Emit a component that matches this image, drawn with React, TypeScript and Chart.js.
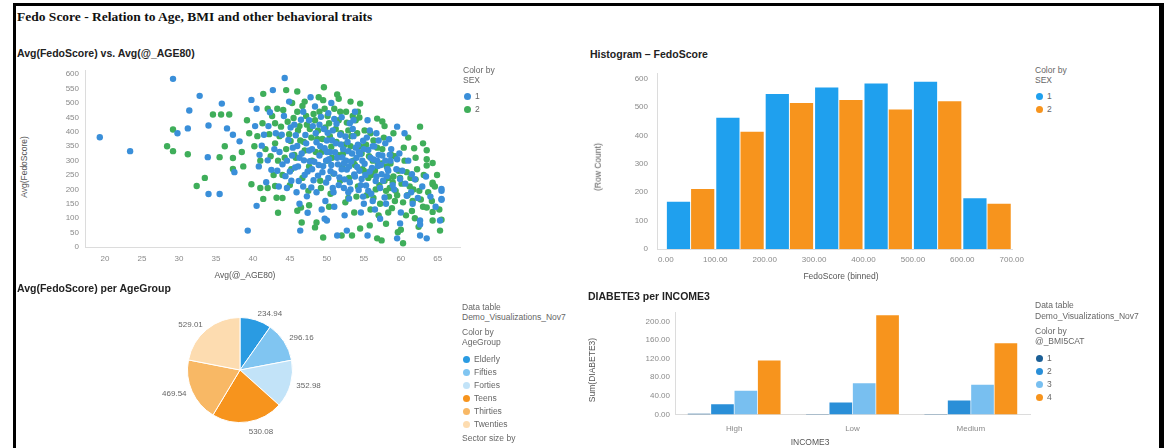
import React, { useEffect, useRef } from 'react';
import { Chart, registerables } from 'chart.js';

Chart.register(...registerables);
Chart.defaults.font.family = "'Liberation Sans', Arial, sans-serif";

// ---------- Scatter: Avg(FedoScore) vs Avg(@_AGE80) ----------
const scatterXTicks = [20, 25, 30, 35, 40, 45, 50, 55, 60, 65];
const scatterYTicks = [0, 50, 100, 150, 200, 250, 300, 350, 400, 450, 500, 550, 600];
const sex1Points: number[][] = [
  [19.3, 381], [23.4, 333], [29.2, 584], [32.8, 525], [35.8, 498], [31.4, 474], [31.2, 412], [29.8, 395],
  [33.9, 312], [34, 184], [35.5, 184], [34, 422], [36.5, 412], [37.3, 390], [38.2, 367], [37.5, 260],
  [40.5, 143], [39.3, 57], [39.8, 511], [40.5, 480], [42.7, 545], [44.3, 587], [46.4, 57], [50, 92],
  [51.4, 40], [55.5, 40], [59.5, 30], [62.6, 40], [63.5, 30], [65.3, 92], [62.6, 78], [65.5, 164],
  [65.5, 195], [59.5, 418], [60.5, 395], [58.4, 374], [56.2, 350], [59.5, 305], [58.2, 271], [57.4, 253],
  [61.5, 253], [59.9, 236], [65.5, 202], [65.5, 167], [60.8, 178], [61.6, 150], [62.6, 92], [59.9, 82],
  [57.2, 98], [52.7, 57], [49.7, 98], [47.4, 119],
  [41.2, 352], [42.0, 301], [42.5, 268], [43.1, 395], [43.6, 330], [44.0, 287], [44.4, 246], [44.8, 372],
  [45.1, 415], [45.3, 318], [45.7, 276], [46.0, 351], [46.2, 229], [46.5, 442], [46.9, 301], [47.1, 389],
  [47.4, 262], [47.6, 335], [47.9, 207], [48.1, 420], [48.3, 296], [48.6, 364], [48.8, 248], [49.0, 318],
  [49.2, 452], [49.5, 281], [49.7, 343], [49.9, 224], [50.1, 397], [50.3, 305], [50.5, 263], [50.7, 371],
  [50.9, 190], [51.1, 329], [51.3, 428], [51.5, 287], [51.7, 242], [51.9, 356], [52.1, 311], [52.3, 205],
  [52.5, 384], [52.7, 269], [52.9, 333], [53.1, 225], [53.3, 297], [53.5, 410], [53.7, 252], [53.9, 345],
  [54.1, 278], [54.3, 198], [54.5, 322], [54.7, 236], [54.9, 369], [55.1, 289], [55.3, 214], [55.6, 337],
  [55.8, 262], [56.0, 185], [56.3, 304], [56.6, 229], [56.9, 281], [57.2, 205], [57.5, 318], [57.8, 172],
  [58.1, 246], [46.8, 470], [48.4, 488], [50.2, 465], [44.2, 455], [52.0, 451], [47.3, 176], [49.8, 160],
  [53.0, 168], [55.0, 150], [43.5, 210], [45.9, 190], [51.0, 140], [41.8, 225], [40.8, 280], [40.3, 420],
  [42.3, 468], [44.9, 505], [47.8, 520], [50.6, 500], [53.8, 470], [55.5, 440], [56.7, 395], [57.9, 360],
  [58.6, 300], [58.9, 215], [56.2, 160], [54.6, 120], [52.4, 110], [49.3, 130], [46.3, 150],
  [44.6, 300], [45.0, 262], [45.4, 345], [45.8, 388], [46.1, 280], [46.6, 325], [47.0, 250], [47.2, 360],
  [47.7, 298], [48.0, 340], [48.2, 232], [48.5, 395], [48.9, 285], [49.1, 350], [49.4, 260], [49.6, 410],
  [49.9, 300], [50.0, 370], [50.2, 240], [50.4, 330], [50.6, 285], [50.8, 405], [51.0, 255], [51.2, 360],
  [51.4, 310], [51.6, 215], [51.8, 390], [52.0, 270], [52.2, 340], [52.4, 235], [52.6, 300], [52.8, 365],
  [53.0, 280], [53.2, 200], [53.4, 325], [53.6, 385], [53.8, 245], [54.0, 310], [54.2, 355], [54.4, 265],
  [54.6, 215], [54.8, 300], [55.0, 340], [55.2, 250], [55.4, 380], [55.6, 195], [55.9, 310], [56.1, 275],
  [56.4, 350], [56.7, 245], [57.0, 320], [57.3, 285], [57.6, 230], [57.9, 300], [58.3, 265], [58.7, 340],
  [59.1, 200], [59.4, 270], [59.8, 325], [60.2, 265], [60.6, 220], [61.0, 300], [61.4, 190], [61.9, 235],
  [62.3, 170], [62.9, 210], [63.4, 245], [64.0, 175], [64.7, 140], [45.2, 230], [46.8, 210], [48.6, 190],
  [50.8, 205], [52.9, 190], [54.9, 175], [56.5, 130], [58.0, 150], [60.0, 120], [49.0, 425], [51.0, 445],
  [53.1, 430], [47.6, 440], [45.6, 425], [43.9, 390], [42.9, 340], [42.1, 420], [43.3, 265], [44.6, 205],
  [41.5, 390], [40.9, 320], [46.3, 310], [48.0, 270], [50.0, 330], [52.3, 290], [54.3, 330], [56.8, 300],
  [58.5, 320], [57.0, 370], [55.8, 405], [53.6, 440],
];
const sex2Points: number[][] = [
  [29.2, 408], [28.4, 350], [29.2, 333], [31.2, 322], [32.4, 212], [33.5, 240], [35.5, 312], [34.6, 460],
  [35.7, 460], [36.8, 460], [37.3, 309], [37.3, 271], [39.8, 218], [41, 205], [42, 205], [43, 212],
  [41.4, 167], [43.2, 171], [43.4, 119], [41.4, 532], [44.5, 545], [46, 126], [46.6, 85], [48.4, 68],
  [49.5, 33], [53.4, 40], [54.5, 64], [56.8, 30], [57.4, 23], [60.3, 13], [65.3, 57], [64.3, 92],
  [58, 81], [64.3, 218], [54.5, 498], [54.2, 470], [56.8, 446], [57.5, 436], [62.6, 418], [61.8, 343],
  [63.5, 336], [63.5, 305], [64.3, 292], [63.5, 283], [64.3, 223], [64.6, 210], [58.5, 205], [59.2, 160],
  [63.5, 137], [64.3, 122], [65.5, 95], [59.6, 51], [55.8, 75], [52, 40], [48.6, 85], [46.5, 137],
  [38.5, 330], [36.2, 350], [39.2, 440],
  [40.6, 385], [41.3, 430], [41.7, 340], [42.2, 392], [42.6, 455], [43.0, 360], [43.4, 300], [43.8, 418],
  [44.1, 476], [44.5, 340], [44.9, 392], [45.2, 270], [45.5, 448], [45.8, 310], [46.1, 405], [46.4, 370],
  [46.7, 490], [47.0, 335], [47.3, 425], [47.6, 280], [47.9, 380], [48.2, 462], [48.5, 330], [48.8, 405],
  [49.1, 230], [49.4, 375], [49.7, 480], [50.0, 300], [50.3, 430], [50.6, 348], [50.9, 255], [51.2, 410],
  [51.5, 320], [51.8, 470], [52.1, 275], [52.4, 355], [52.7, 432], [53.0, 240], [53.3, 385], [53.6, 300],
  [53.9, 440], [54.2, 210], [54.5, 350], [54.8, 270], [55.1, 405], [55.4, 180], [55.7, 315], [56.0, 250],
  [56.3, 370], [56.6, 200], [56.9, 290], [57.2, 150], [57.5, 340], [57.8, 230], [58.1, 280], [58.4, 175],
  [58.7, 320], [59.0, 245], [59.3, 195], [59.7, 265], [60.1, 220], [60.5, 300], [60.9, 180], [61.3, 240],
  [61.7, 200], [62.2, 270], [62.7, 165], [63.1, 250], [45.0, 215], [47.5, 195], [50.5, 185], [52.9, 170],
  [55.9, 130], [58.3, 120], [60.7, 110], [61.5, 125], [42.8, 250], [44.0, 170], [48.9, 520], [51.6, 515],
  [46.0, 540], [53.2, 505], [49.6, 555], [52.5, 155],
  [42.4, 315], [43.0, 430], [43.6, 385], [44.3, 310], [44.7, 435], [45.1, 368], [45.6, 320], [46.0, 470],
  [46.3, 420], [46.9, 365], [47.2, 455], [47.7, 410], [48.0, 300], [48.4, 440], [48.7, 375], [49.0, 470],
  [49.3, 330], [49.8, 415], [50.1, 455], [50.4, 385], [50.7, 310], [51.0, 480], [51.3, 365], [51.6, 440],
  [51.9, 395], [52.2, 325], [52.6, 470], [52.9, 405], [53.2, 350], [53.5, 455], [53.8, 285], [54.1, 395],
  [54.4, 450], [54.7, 325], [55.0, 265], [55.3, 355], [55.6, 240], [55.9, 395], [56.2, 300], [56.5, 265],
  [56.8, 345], [57.1, 215], [57.4, 290], [57.7, 380], [58.0, 195], [58.3, 240], [58.6, 290], [58.9, 225],
  [59.2, 315], [59.5, 180], [59.9, 240], [60.3, 155], [60.8, 260], [61.2, 210], [61.6, 160], [62.0, 235],
  [62.5, 195], [63.0, 140], [63.7, 190], [64.2, 160], [64.9, 250], [65.2, 130], [60.4, 345], [61.0, 380],
  [62.0, 310], [63.0, 360], [59.0, 395], [57.8, 420], [49.5, 510], [47.0, 505], [51.4, 530], [45.3, 500],
  [43.3, 480], [42.0, 480], [40.2, 350], [41.0, 300], [39.5, 395], [38.7, 280], [44.0, 250], [46.7, 240],
  [49.2, 205], [51.8, 230], [54.0, 175], [56.3, 170], [58.8, 135], [61.9, 100], [62.4, 70], [60.0, 60],
  [57.0, 110], [53.7, 120], [50.3, 140], [47.6, 145],
];

// ---------- Histogram: FedoScore ----------
const histBinCenters = [50, 150, 250, 350, 450, 550, 650];
const histSex1 = [166, 462, 546, 569, 583, 589, 179];
const histSex2 = [211, 413, 514, 525, 491, 520, 159];
const histXTicks = [0, 100, 200, 300, 400, 500, 600, 700];
const histXTickLabels = ['0.00', '100.00', '200.00', '300.00', '400.00', '500.00', '600.00', '700.00'];
const histYTicks = [0, 100, 200, 300, 400, 500, 600];

// ---------- Pie: Avg(FedoScore) per AgeGroup ----------
const ageGroups = ['Elderly', 'Fifties', 'Forties', 'Teens', 'Thirties', 'Twenties'];
const ageAvgScore = [234.94, 296.16, 352.98, 530.08, 469.54, 529.01];

// ---------- Bars: DIABETE3 per INCOME3 ----------
const incomeCats = ['High', 'Low', 'Medium'];
const bmiCats = ['1', '2', '3', '4'];
const diabetesBmi1 = [1.5, 1, 1];
const diabetesBmi2 = [22, 26, 30];
const diabetesBmi3 = [51, 67, 64];
const diabetesBmi4 = [116, 213, 153];
const diabYTicks = [0, 40, 80, 120, 160, 200];

// ---------- colours ----------
const SC_BLUE = '#3a8fd9';
const SC_GREEN = '#3fae5a';
const H_BLUE = '#1fa0ee';
const H_ORANGE = '#f7941d';
const AGE_COLORS = ['#2a9be2', '#80c5f1', '#c2e3f8', '#f7941d', '#f8b865', '#fddcb0'];
const BMI_COLORS = ['#1b5f96', '#2a8fd8', '#78bff0', '#f7941d'];

const TICK_FONT = { size: 8 };
const TICK_COLOR = '#8a8a8a';
const AXIS_BORDER = { color: '#dcdcdc', width: 1 };

function fixedTicks(values: number[]) {
  return (scale: any) => {
    scale.ticks = values.map((v) => ({ value: v }));
  };
}

function ChartBox({ left, top, width, height, make }: any) {
  const ref = useRef<HTMLCanvasElement>(null);
  useEffect(() => {
    const chart = new Chart(ref.current as HTMLCanvasElement, make());
    return () => chart.destroy();
  }, []);
  return (
    <canvas
      ref={ref}
      width={width}
      height={height}
      style={{ position: 'absolute', left, top, width, height }}
    />
  );
}

function T({ x, y, children, size = 8.5, color = '#666', bold = false, align = 'left', rotate = false, family }: any) {
  let transform = 'translateY(-50%)';
  if (align === 'center') transform = 'translate(-50%,-50%)';
  if (rotate) transform = 'translate(-50%,-50%) rotate(-90deg)';
  return (
    <div
      style={{
        position: 'absolute',
        left: x,
        top: y,
        transform,
        whiteSpace: 'nowrap',
        fontSize: size,
        lineHeight: 1,
        color,
        fontWeight: bold ? 'bold' : 'normal',
        fontFamily: family || "'Liberation Sans', Arial, sans-serif",
      }}
    >
      {children}
    </div>
  );
}

function Dot({ x, y, color }: any) {
  return (
    <div
      style={{
        position: 'absolute',
        left: x - 3.5,
        top: y - 3.5,
        width: 7,
        height: 7,
        borderRadius: '50%',
        background: color,
      }}
    />
  );
}

function LegendItems({ x, y0, step, labels, colors }: any) {
  return (
    <>
      {labels.map((l: string, i: number) => (
        <React.Fragment key={l}>
          <Dot x={x + 4} y={y0 + i * step} color={colors[i]} />
          <T x={x + 12} y={y0 + i * step}>{l}</T>
        </React.Fragment>
      ))}
    </>
  );
}

const pieLabelPlugin = {
  id: 'pieLabels',
  afterDatasetsDraw(chart: any) {
    const ctx = chart.ctx;
    const meta = chart.getDatasetMeta(0);
    const values = chart.data.datasets[0].data;
    ctx.save();
    ctx.font = "8px 'Liberation Sans', Arial, sans-serif";
    ctx.fillStyle = '#666';
    meta.data.forEach((arc: any, i: number) => {
      const p = arc.getProps(['x', 'y', 'startAngle', 'endAngle', 'outerRadius'], true);
      const mid = (p.startAngle + p.endAngle) / 2;
      const c = Math.cos(mid);
      const s = Math.sin(mid);
      const r = p.outerRadius + 6;
      const tx = p.x + c * r;
      const ty = p.y + s * r;
      ctx.textAlign = c > 0.1 ? 'left' : c < -0.1 ? 'right' : 'center';
      ctx.textBaseline = s > 0.97 ? 'top' : s < -0.97 ? 'bottom' : 'middle';
      ctx.fillText(Number(values[i]).toFixed(2), tx, ty);
    });
    ctx.restore();
  },
};

const makeScatter = () => ({
  type: 'scatter',
  data: {
    datasets: [
      {
        label: '1',
        data: sex1Points.map(([x, y]) => ({ x, y })),
        backgroundColor: SC_BLUE,
        borderColor: SC_BLUE,
        borderWidth: 0,
        pointRadius: 3.2,
      },
      {
        label: '2',
        data: sex2Points.map(([x, y]) => ({ x, y })),
        backgroundColor: SC_GREEN,
        borderColor: SC_GREEN,
        borderWidth: 0,
        pointRadius: 3.2,
      },
    ],
  },
  options: {
    responsive: false,
    animation: false,
    layout: { padding: { top: 8, right: 10, left: 0, bottom: 0 } },
    plugins: { legend: { display: false }, tooltip: { enabled: false } },
    scales: {
      x: {
        type: 'linear',
        min: 17.3,
        max: 68,
        afterBuildTicks: fixedTicks(scatterXTicks),
        afterFit: (s: any) => { s.height = 25; },
        grid: { display: false, drawTicks: false },
        border: AXIS_BORDER,
        ticks: { padding: 7, font: TICK_FONT, color: TICK_COLOR, autoSkip: false, maxRotation: 0 },
      },
      y: {
        min: 0,
        max: 612,
        afterBuildTicks: fixedTicks(scatterYTicks),
        afterFit: (s: any) => { s.width = 45; },
        grid: { display: false, drawTicks: false },
        border: AXIS_BORDER,
        ticks: { padding: 6, font: TICK_FONT, color: TICK_COLOR, autoSkip: false },
      },
    },
  },
});

const makeHist = () => ({
  type: 'bar',
  data: {
    datasets: [
      {
        label: '1',
        data: histBinCenters.map((x, i) => ({ x, y: histSex1[i] })),
        backgroundColor: H_BLUE,
        categoryPercentage: 0.98,
        barPercentage: 0.96,
      },
      {
        label: '2',
        data: histBinCenters.map((x, i) => ({ x, y: histSex2[i] })),
        backgroundColor: H_ORANGE,
        categoryPercentage: 0.98,
        barPercentage: 0.96,
      },
    ],
  },
  options: {
    responsive: false,
    animation: false,
    layout: { padding: { top: 10, right: 13, left: 0, bottom: 0 } },
    plugins: { legend: { display: false }, tooltip: { enabled: false } },
    scales: {
      x: {
        type: 'linear',
        min: -18,
        max: 702,
        offset: false,
        afterBuildTicks: fixedTicks(histXTicks),
        afterFit: (s: any) => { s.height = 23; },
        grid: { display: false, drawTicks: false },
        border: AXIS_BORDER,
        ticks: {
          padding: 6,
          font: TICK_FONT,
          color: TICK_COLOR,
          autoSkip: false,
          maxRotation: 0,
          callback: (v: number) => histXTickLabels[histXTicks.indexOf(v)],
        },
      },
      y: {
        min: 0,
        max: 617,
        afterBuildTicks: fixedTicks(histYTicks),
        afterFit: (s: any) => { s.width = 57; },
        grid: { display: false, drawTicks: false },
        border: AXIS_BORDER,
        ticks: { padding: 9, font: TICK_FONT, color: TICK_COLOR, autoSkip: false },
      },
    },
  },
});

const makePie = () => ({
  type: 'pie',
  data: {
    labels: ageGroups,
    datasets: [
      {
        data: ageAvgScore,
        backgroundColor: AGE_COLORS,
        borderColor: '#ffffff',
        borderWidth: 1,
      },
    ],
  },
  options: {
    responsive: false,
    animation: false,
    layout: { padding: 22 },
    plugins: { legend: { display: false }, tooltip: { enabled: false } },
  },
  plugins: [pieLabelPlugin],
});

const makeBars = () => ({
  type: 'bar',
  data: {
    labels: incomeCats,
    datasets: [diabetesBmi1, diabetesBmi2, diabetesBmi3, diabetesBmi4].map((d, i) => ({
      label: bmiCats[i],
      data: d,
      backgroundColor: BMI_COLORS[i],
      categoryPercentage: 0.79,
      barPercentage: 0.97,
    })),
  },
  options: {
    responsive: false,
    animation: false,
    layout: { padding: { top: 12, right: 10, left: 0, bottom: 0 } },
    plugins: { legend: { display: false }, tooltip: { enabled: false } },
    scales: {
      x: {
        afterFit: (s: any) => { s.height = 33.5; },
        grid: { display: false, drawTicks: false },
        border: AXIS_BORDER,
        ticks: { padding: 9, font: TICK_FONT, color: TICK_COLOR, maxRotation: 0 },
      },
      y: {
        min: 0,
        max: 220,
        afterBuildTicks: fixedTicks(diabYTicks),
        afterFit: (s: any) => { s.width = 75; },
        grid: { display: false, drawTicks: false },
        border: AXIS_BORDER,
        ticks: {
          padding: 5,
          font: TICK_FONT,
          color: TICK_COLOR,
          autoSkip: false,
          callback: (v: number) => v.toFixed(2),
        },
      },
    },
  },
});

export default function App() {
  return (
    <div
      style={{
        position: 'absolute',
        left: 0,
        top: 0,
        width: 1166,
        height: 448,
        overflow: 'hidden',
        background: '#ffffff',
      }}
    >
      {/* frame */}
      <div
        style={{
          position: 'absolute',
          left: 13,
          top: 3,
          width: 1164 - 13,
          height: 470,
          borderTop: '3px solid #000',
          borderLeft: '3px solid #000',
          borderRight: '5px solid #000',
          boxSizing: 'border-box',
        }}
      />
      <T x={17} y={17} size={13.5} bold color="#111" family="'Liberation Serif', 'Times New Roman', serif">
        Fedo Score - Relation to Age, BMI and other behavioral traits
      </T>

      {/* Scatter panel */}
      <T x={17} y={53} size={10.5} bold color="#222">Avg(FedoScore) vs. Avg(@_AGE80)</T>
      <ChartBox left={40} top={60} width={430} height={212} make={makeScatter} />
      <T x={24} y={167} size={8.5} color="#555" rotate>Avg(FedoScore)</T>
      <T x={245} y={275} size={8.5} color="#555" align="center">Avg(@_AGE80)</T>
      <T x={463} y={70}>Color by</T>
      <T x={463} y={80}>SEX</T>
      <LegendItems x={463} y0={96} step={13} labels={['1', '2']} colors={[SC_BLUE, SC_GREEN]} />

      {/* Histogram panel */}
      <T x={590} y={54} size={10.5} bold color="#222">Histogram – FedoScore</T>
      <ChartBox left={600} top={60} width={430} height={212} make={makeHist} />
      <T x={598} y={167} size={8.5} color="#555" rotate>(Row Count)</T>
      <T x={841} y={276} size={8.5} color="#555" align="center">FedoScore (binned)</T>
      <T x={1035} y={70}>Color by</T>
      <T x={1035} y={80}>SEX</T>
      <LegendItems x={1035} y0={96} step={13} labels={['1', '2']} colors={[H_BLUE, H_ORANGE]} />

      {/* Pie panel */}
      <T x={17} y={288} size={10.5} bold color="#222">Avg(FedoScore) per AgeGroup</T>
      <ChartBox left={135} top={295} width={210} height={150} make={makePie} />
      <T x={462} y={307}>Data table</T>
      <T x={462} y={317}>Demo_Visualizations_Nov7</T>
      <T x={462} y={332}>Color by</T>
      <T x={462} y={342}>AgeGroup</T>
      <LegendItems x={462} y0={359} step={13} labels={ageGroups} colors={AGE_COLORS} />
      <T x={462} y={438}>Sector size by</T>

      {/* Bar panel */}
      <T x={588} y={296} size={10.5} bold color="#222">DIABETE3 per INCOME3</T>
      <ChartBox left={600} top={300} width={440} height={148} make={makeBars} />
      <T x={592} y={370} size={8.5} color="#555" rotate>Sum(DIABETE3)</T>
      <T x={810} y={442} size={8.5} color="#555" align="center">INCOME3</T>
      <T x={1035} y={305}>Data table</T>
      <T x={1035} y={316}>Demo_Visualizations_Nov7</T>
      <T x={1035} y={331}>Color by</T>
      <T x={1035} y={341}>@_BMI5CAT</T>
      <LegendItems x={1035} y0={358} step={13} labels={bmiCats} colors={BMI_COLORS} />
    </div>
  );
}
